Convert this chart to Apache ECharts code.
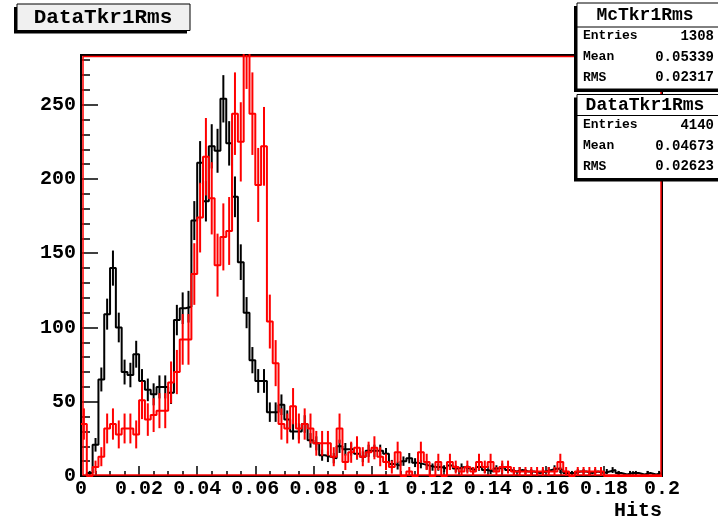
<!DOCTYPE html>
<html><head><meta charset="utf-8">
<script src="https://cdn.jsdelivr.net/npm/echarts@6/dist/echarts.min.js"></script>
<style>html,body{margin:0;padding:0;background:#fff}#c{width:718px;height:522px}</style>
</head><body><div id="c"></div>
<script>
// ---- data ----
const xMin = 0, xMax = 0.2, nBins = 100;
const xTickLabels = ['0','0.02','0.04','0.06','0.08','0.1','0.12','0.14','0.16','0.18','0.2'];
const yTickLabels = ['0','50','100','150','200','250'];
const xAxisTitle = 'Hits';
const titleText = 'DataTkr1Rms';
// Data histogram (black), bin contents
const dataValues = [
  0,2,21,65,109,140,100,70,68,82,
  64,58,55,60,60,56,105,113,114,172,
  211,185,222,219,254,224,188,144,110,78,
  64,64,43,43,48,38,30,30,35,24,
  22,14,13,12,20,18,18,15,13,17,
  17,17,15,8,7,10,12,9,8,7,
  6,6,5,7,5,6,5,4,6,4,
  3,5,6,4,3,4,3,3,2,3,
  4,5,4,2,2,3,3,2,3,2,
  3,4,2,1,2,2,1,2,1,2
];
// MC histogram (red), normalised bin contents
const mcValues = [
  35,0,6,13,32,35,28,32,32,28,
  51,38,41,44,44,63,70,92,92,136,
  174,215,187,142,161,165,244,225,291,244,
  196,222,104,76,35,32,47,32,35,32,
  22,22,22,13,32,9.5,16,19,13,16,
  19,13,9.5,6,16,0,3,0,16,9.5,
  0,9.5,0,9.5,6,3,6,3,9.5,6,
  9.5,3,6,6,3,3,3,3,3,3,
  3,3,9.5,3,0,3,3,3,3,3,
  0,0,0,0,0,0,0,0,0,0
];
const mcEntries = 1308, dataEntries = 4140;
const statsMc = ['McTkr1Rms', '1308', '0.05339', '0.02317'];
const statsData = ['DataTkr1Rms', '4140', '0.04673', '0.02623'];
const statsRowNames = ['Entries', 'Mean', 'RMS'];

// ---- build ----
const mcScale = dataEntries / mcEntries;
const binW = (xMax - xMin) / nBins;
function stepData(vals) {
  const d = vals.map((v, i) => [xMin + i * binW, v]);
  d.push([xMax, vals[vals.length - 1]]);
  return d;
}
function errData(vals, scale) {
  const out = [];
  vals.forEach((v, i) => {
    if (v > 0) {
      const e = Math.sqrt(v * scale);
      out.push([xMin + (i + 0.5) * binW, Math.max(0, v - e), v + e]);
    }
  });
  return out;
}
function errSeries(vals, scale, color, z) {
  return {
    type: 'custom', clip: true, z: z, silent: true,
    data: errData(vals, scale),
    encode: { x: 0, y: [1, 2] },
    renderItem: function (params, api) {
      const p1 = api.coord([api.value(0), api.value(1)]);
      const p2 = api.coord([api.value(0), api.value(2)]);
      return { type: 'line', shape: { x1: p1[0], y1: p1[1], x2: p2[0], y2: p2[1] },
        style: { stroke: color, lineWidth: 2 } };
    }
  };
}
const FONT = 'Liberation Mono';
const G = { left: 81, right: 56, top: 55, bottom: 46 };
const ZB = 200;

function statsBox(y, h, sepY, rows, rowYs, headY) {
  const x = 577, w = 150;
  const els = [
    { type: 'rect', z: ZB, shape: { x: x - 3, y: y + 3, width: w, height: h }, style: { fill: '#000' } },
    { type: 'rect', z: ZB + 1, shape: { x: x, y: y, width: w, height: h }, style: { fill: '#fff', stroke: '#000', lineWidth: 1 } },
    { type: 'line', z: ZB + 2, shape: { x1: x, y1: sepY, x2: x + w, y2: sepY }, style: { stroke: '#000', lineWidth: 1 } },
    { type: 'text', z: ZB + 2, x: 645, y: headY, style: { text: rows[0], font: 'bold 18px ' + FONT, fill: '#000', align: 'center', verticalAlign: 'middle' } }
  ];
  statsRowNames.forEach((nm, k) => {
    els.push({ type: 'text', z: ZB + 2, x: 583, y: rowYs[k], style: { text: nm, font: 'bold 13px ' + FONT, fill: '#000', align: 'left', verticalAlign: 'middle' } });
    els.push({ type: 'text', z: ZB + 2, x: 714, y: rowYs[k], style: { text: rows[k + 1], font: 'bold 14px ' + FONT, fill: '#000', align: 'right', verticalAlign: 'middle' } });
  });
  return els;
}

const chart = echarts.init(document.getElementById('c'), null, { renderer: 'canvas' });
chart.setOption({
  animation: false,
  backgroundColor: '#fff',
  grid: Object.assign({ show: true, borderColor: '#000', borderWidth: 2, backgroundColor: 'transparent', containLabel: false, outerBoundsMode: 'none' }, G),
  xAxis: {
    type: 'value', min: xMin, max: xMax, interval: 0.02,
    axisLine: { show: true, onZero: false, lineStyle: { color: '#000', width: 2 } },
    axisTick: { show: true, inside: true, length: 10, lineStyle: { color: '#000', width: 1.5 } },
    minorTick: { show: true, splitNumber: 4, length: 5, lineStyle: { color: '#000', width: 1.5 } },
    splitLine: { show: false },
    axisLabel: {
      margin: 3, color: '#000', fontFamily: FONT, fontWeight: 'bold', fontSize: 20,
      showMinLabel: true, showMaxLabel: true,
      formatter: function (v) { const k = Math.round((v - xMin) / 0.02); return Math.abs(v - (xMin + k * 0.02)) < 1e-9 ? (xTickLabels[k] || '') : ''; }
    }
  },
  yAxis: {
    type: 'value', min: 0, max: 283.5, interval: 50,
    axisLine: { show: true, onZero: false, lineStyle: { color: '#000', width: 2 } },
    axisTick: { show: true, inside: true, length: 17, lineStyle: { color: '#000', width: 1.5 } },
    minorTick: { show: true, splitNumber: 5, length: 9, lineStyle: { color: '#000', width: 1.5 } },
    splitLine: { show: false },
    axisLabel: {
      margin: 5, color: '#000', fontFamily: FONT, fontWeight: 'bold', fontSize: 20,
      showMaxLabel: false,
      formatter: function (v) { const k = Math.round(v / 50); return Math.abs(v - k * 50) < 1e-6 ? (yTickLabels[k] || '') : ''; }
    }
  },
  series: [
    { type: 'line', step: 'end', symbol: 'none', clip: true, z: 2, data: stepData(dataValues),
      lineStyle: { color: '#000', width: 2 }, itemStyle: { color: '#000' } },
    errSeries(dataValues, 1, '#000', 2),
    { type: 'line', step: 'end', symbol: 'none', clip: true, z: 3, data: stepData(mcValues),
      lineStyle: { color: '#ff0000', width: 2 }, itemStyle: { color: '#ff0000' } },
    errSeries(mcValues, mcScale, '#ff0000', 3)
  ],
  graphic: [
    { type: 'rect', z: 50, silent: true, shape: { x: 83, y: 56.5, width: 578, height: 418.5 }, style: { fill: 'none', stroke: '#ff0000', lineWidth: 1.5 } },
    { type: 'text', z: 50, x: 662, y: 511, style: { text: xAxisTitle, font: 'bold 20px ' + FONT, fill: '#000', align: 'right', verticalAlign: 'middle' } },
    { type: 'rect', z: ZB, shape: { x: 14, y: 7, width: 173, height: 26.5 }, style: { fill: '#000' } },
    { type: 'rect', z: ZB + 1, shape: { x: 17, y: 4, width: 173, height: 26.5 }, style: { fill: '#f0f0f0', stroke: '#000', lineWidth: 1 } },
    { type: 'text', z: ZB + 2, x: 103, y: 18, style: { text: titleText, font: 'bold 21px ' + FONT, fill: '#000', align: 'center', verticalAlign: 'middle' } }
  ].concat(statsBox(3, 86, 27, statsMc, [36, 57, 77.5], 15))
   .concat(statsBox(94.5, 84, 115.5, statsData, [125, 146, 166.5], 105.5))
});
</script>
</body></html>
